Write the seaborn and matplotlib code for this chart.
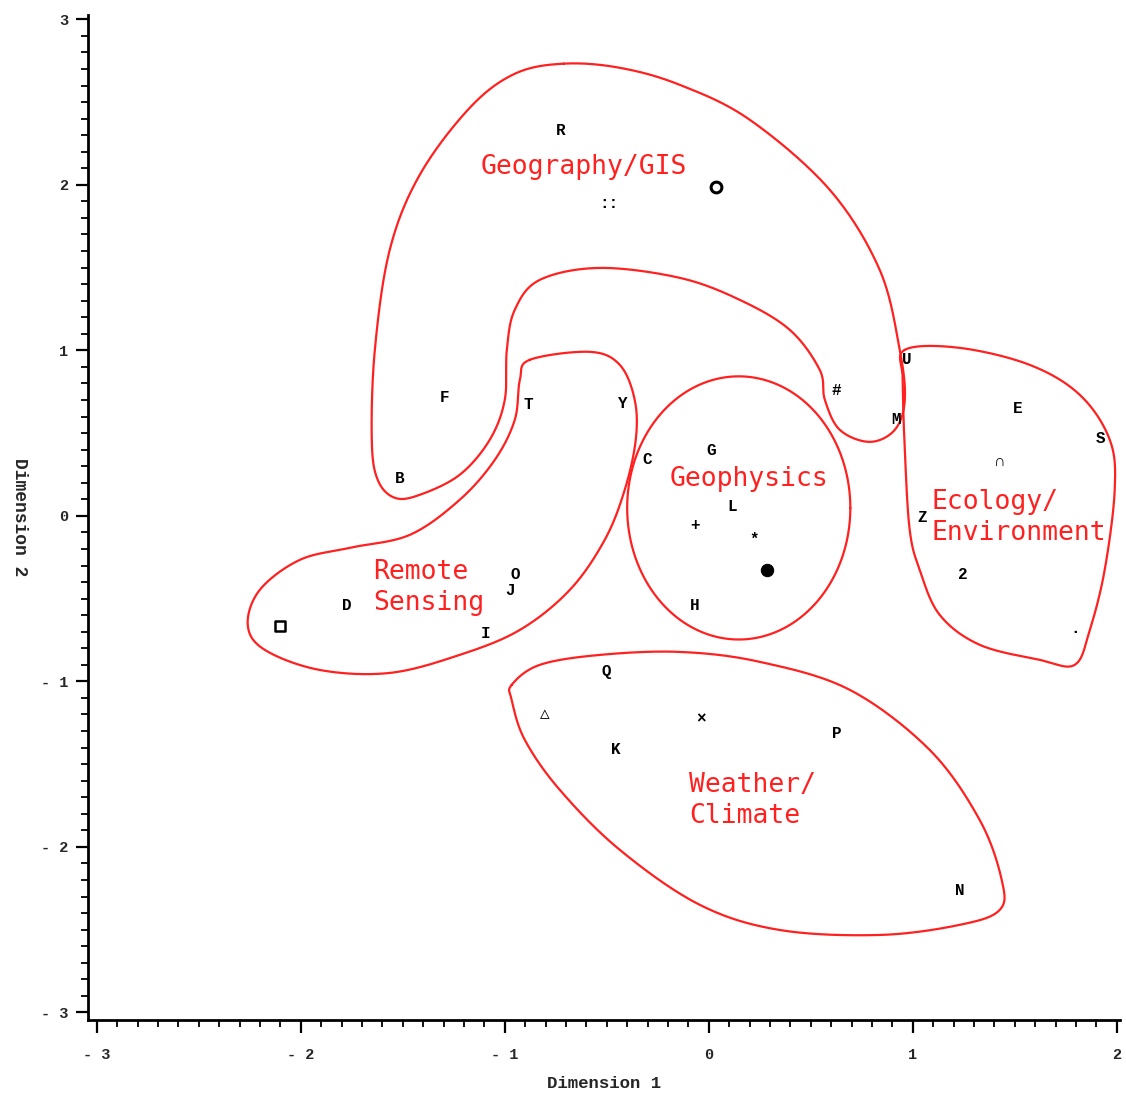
import numpy as np
import pandas as pd
import matplotlib
matplotlib.use("Agg")
import matplotlib.pyplot as plt
import seaborn as sns

# point labels and MDS coordinates
labels = ["R", "::", "F", "B", "T", "Y", "C", "U", "#", "M", "G", "L", "+", "*", "H",
          "E", "S", "∩", "Z", "2", "·", "D", "J", "O", "I", "Q", "△", "×", "K", "P", "N"]
dim1 = [-0.725, -0.49, -1.294, -1.515, -0.887, -0.42, -0.304, 0.97, 0.627, 0.92, 0.01, 0.113, -0.069, 0.22, -0.069,
        1.515, 1.92, 1.426, 1.044, 1.245, 1.794, -1.775, -0.975, -0.946, -1.093, -0.5, -0.804, -0.039, -0.456, 0.627, 1.23]
dim2 = [2.326, 1.89, 0.713, 0.224, 0.671, 0.677, 0.338, 0.943, 0.755, 0.58, 0.393, 0.054, -0.06, -0.139, -0.544,
        0.647, 0.465, 0.326, -0.012, -0.356, -0.70, -0.544, -0.45, -0.356, -0.713, -0.943, -1.196, -1.227, -1.414, -1.317, -2.266]

# points drawn as circle / square markers
mark_kind = ["open", "filled", "square"]
mark_x = [0.034, 0.284, -2.103]
mark_y = [1.988, -0.326, -0.665]

# hand-drawn cluster outlines (data units)
geo_x = [-0.711, -0.436, -0.142, 0.201, 0.593, 0.838, 0.936, 0.961, 0.912, 0.789, 0.642, 0.569, 0.544, 0.397, 0.152,
         -0.142, -0.534, -0.828, -0.951, -0.990, -1.0, -1.074, -1.221, -1.417, -1.539, -1.623, -1.652, -1.637,
         -1.564, -1.417, -1.172, -0.951]
geo_y = [2.732, 2.707, 2.604, 2.393, 1.970, 1.486, 1.003, 0.701, 0.520, 0.447, 0.520, 0.701, 0.882, 1.124, 1.305,
         1.438, 1.498, 1.426, 1.245, 1.003, 0.701, 0.459, 0.248, 0.127, 0.109, 0.218, 0.459, 1.003,
         1.607, 2.060, 2.465, 2.671]
rs_x = [-0.877, -0.583, -0.436, -0.363, -0.358, -0.412, -0.510, -0.681, -0.926, -1.221, -1.564, -1.907,
        -2.176, -2.260, -2.201, -2.005, -1.760, -1.466, -1.221, -1.049, -0.951, -0.926]
rs_y = [0.943, 0.991, 0.912, 0.701, 0.459, 0.157, -0.145, -0.447, -0.689, -0.840, -0.949, -0.931,
        -0.810, -0.659, -0.447, -0.266, -0.193, -0.115, 0.097, 0.338, 0.580, 0.822]
eco_x = [0.961, 1.230, 1.574, 1.819, 1.966, 1.990, 1.941, 1.868, 1.794, 1.623, 1.328, 1.132, 1.034, 0.985, 0.961, 0.951]
eco_y = [1.003, 1.015, 0.912, 0.731, 0.459, 0.157, -0.326, -0.689, -0.900, -0.870, -0.779, -0.598, -0.326, -0.085, 0.399, 0.822]
wc_x = [-0.966, -0.828, -0.534, -0.142, 0.250, 0.691, 1.083, 1.328, 1.436, 1.426, 1.230, 0.838, 0.348,
        -0.044, -0.436, -0.730, -0.902, -0.966]
wc_y = [-1.021, -0.900, -0.840, -0.822, -0.882, -1.051, -1.414, -1.837, -2.199, -2.381, -2.471, -2.532, -2.502,
        -2.350, -2.018, -1.656, -1.353, -1.112]
gp_center = (0.147, 0.048)
gp_radius = (0.547, 0.795)

# cluster names
region_names = ["Geography/GIS", "Geophysics", "Ecology/\nEnvironment", "Remote\nSensing", "Weather/\nClimate"]
region_x = [-0.613, 0.196, 1.093, -1.647, -0.098]
region_y = [2.109, 0.224, -0.009, -0.432, -1.719]

xticks = [-3, -2, -1, 0, 1, 2]
xtick_labels = ["- 3", "- 2", "- 1", "0", "1", "2"]
yticks = [-3, -2, -1, 0, 1, 2, 3]
ytick_labels = ["- 3", "- 2", "- 1", "0", "1", "2", "3"]


def closed_curve(xs, ys, n=30):
    P = np.column_stack([xs, ys])
    m = len(P)
    t = np.linspace(0, 1, n, endpoint=False)[:, None]
    segs = []
    for i in range(m):
        p0, p1, p2, p3 = P[i - 1], P[i], P[(i + 1) % m], P[(i + 2) % m]
        segs.append(0.5 * (2 * p1 + (-p0 + p2) * t + (2 * p0 - 5 * p1 + 4 * p2 - p3) * t ** 2
                           + (-p0 + 3 * p1 - 3 * p2 + p3) * t ** 3))
    out = np.vstack(segs)
    return np.vstack([out, out[:1]])


sns.set_style("ticks")
plt.rcParams['font.family'] = ['DejaVu Sans Mono', 'DejaVu Sans']

fig = plt.figure(figsize=(11.26, 10.99), dpi=100)
ax = fig.add_axes([0.078, 0.072, 0.9165, 0.9145])

red = "#ff2020"
for xs, ys in [(geo_x, geo_y), (rs_x, rs_y), (eco_x, eco_y), (wc_x, wc_y)]:
    c = closed_curve(xs, ys)
    ax.plot(c[:, 0], c[:, 1], color=red, lw=1.6)
th = np.linspace(0, 2 * np.pi, 300)
ax.plot(gp_center[0] + gp_radius[0] * np.cos(th), gp_center[1] + gp_radius[1] * np.sin(th), color=red, lw=1.6)

for name, x, y in zip(region_names, region_x, region_y):
    ha = "center" if "\n" not in name else "left"
    ax.text(x, y, name, color=red, fontsize=19, ha=ha, va="center", linespacing=1.25,
            family=['DejaVu Sans Mono'])

for lab, x, y in zip(labels, dim1, dim2):
    ax.text(x, y, lab, fontsize=11.5, fontweight="bold", ha="center", va="center",
            family=['Liberation Mono', 'DejaVu Sans Mono'], color="black")

marks = pd.DataFrame({"x": mark_x, "y": mark_y, "kind": mark_kind})
sns.scatterplot(data=marks[marks.kind == "open"], x="x", y="y", marker="o", s=60,
                facecolor="white", edgecolor="black", linewidth=2.2, ax=ax)
sns.scatterplot(data=marks[marks.kind == "filled"], x="x", y="y", marker="o", s=80,
                color="black", edgecolor="black", ax=ax)
sns.scatterplot(data=marks[marks.kind == "square"], x="x", y="y", marker="s", s=55,
                facecolor="white", edgecolor="black", linewidth=1.8, ax=ax)

ax.set_xlim(-3.044, 2.015)
ax.set_ylim(-3.045, 3.027)
ax.set_xticks(xticks)
ax.set_xticklabels(xtick_labels)
ax.set_yticks(yticks)
ax.set_yticklabels(ytick_labels)
ax.set_xticks(np.arange(-30, 21) / 10, minor=True)
ax.set_yticks(np.arange(-30, 31) / 10, minor=True)
ax.tick_params(which="major", direction="out", length=9, width=1.6, color="black", labelsize=11)
ax.tick_params(axis="x", which="major", pad=11)
ax.tick_params(axis="y", which="major", pad=5)
ax.tick_params(which="minor", direction="out", length=5, width=1.3, color="black")
for t in ax.get_xticklabels() + ax.get_yticklabels():
    t.set_fontweight("bold")
    t.set_family(['Liberation Mono', 'DejaVu Sans Mono'])

sns.despine(ax=ax)
ax.spines["left"].set_linewidth(2)
ax.spines["bottom"].set_linewidth(2)
ax.spines["left"].set_color("black")
ax.spines["bottom"].set_color("black")

ax.set_xlabel("Dimension 1", fontsize=12.5, fontweight="bold", family=['Liberation Mono'], labelpad=10)
ax.set_ylabel("Dimension 2", fontsize=13, fontweight="bold", family=['Liberation Mono'],
              rotation=270, va="center", ha="center")
ax.yaxis.set_label_coords(-0.066, 0.5)

fig.savefig("out.png", dpi=100, facecolor="white")
